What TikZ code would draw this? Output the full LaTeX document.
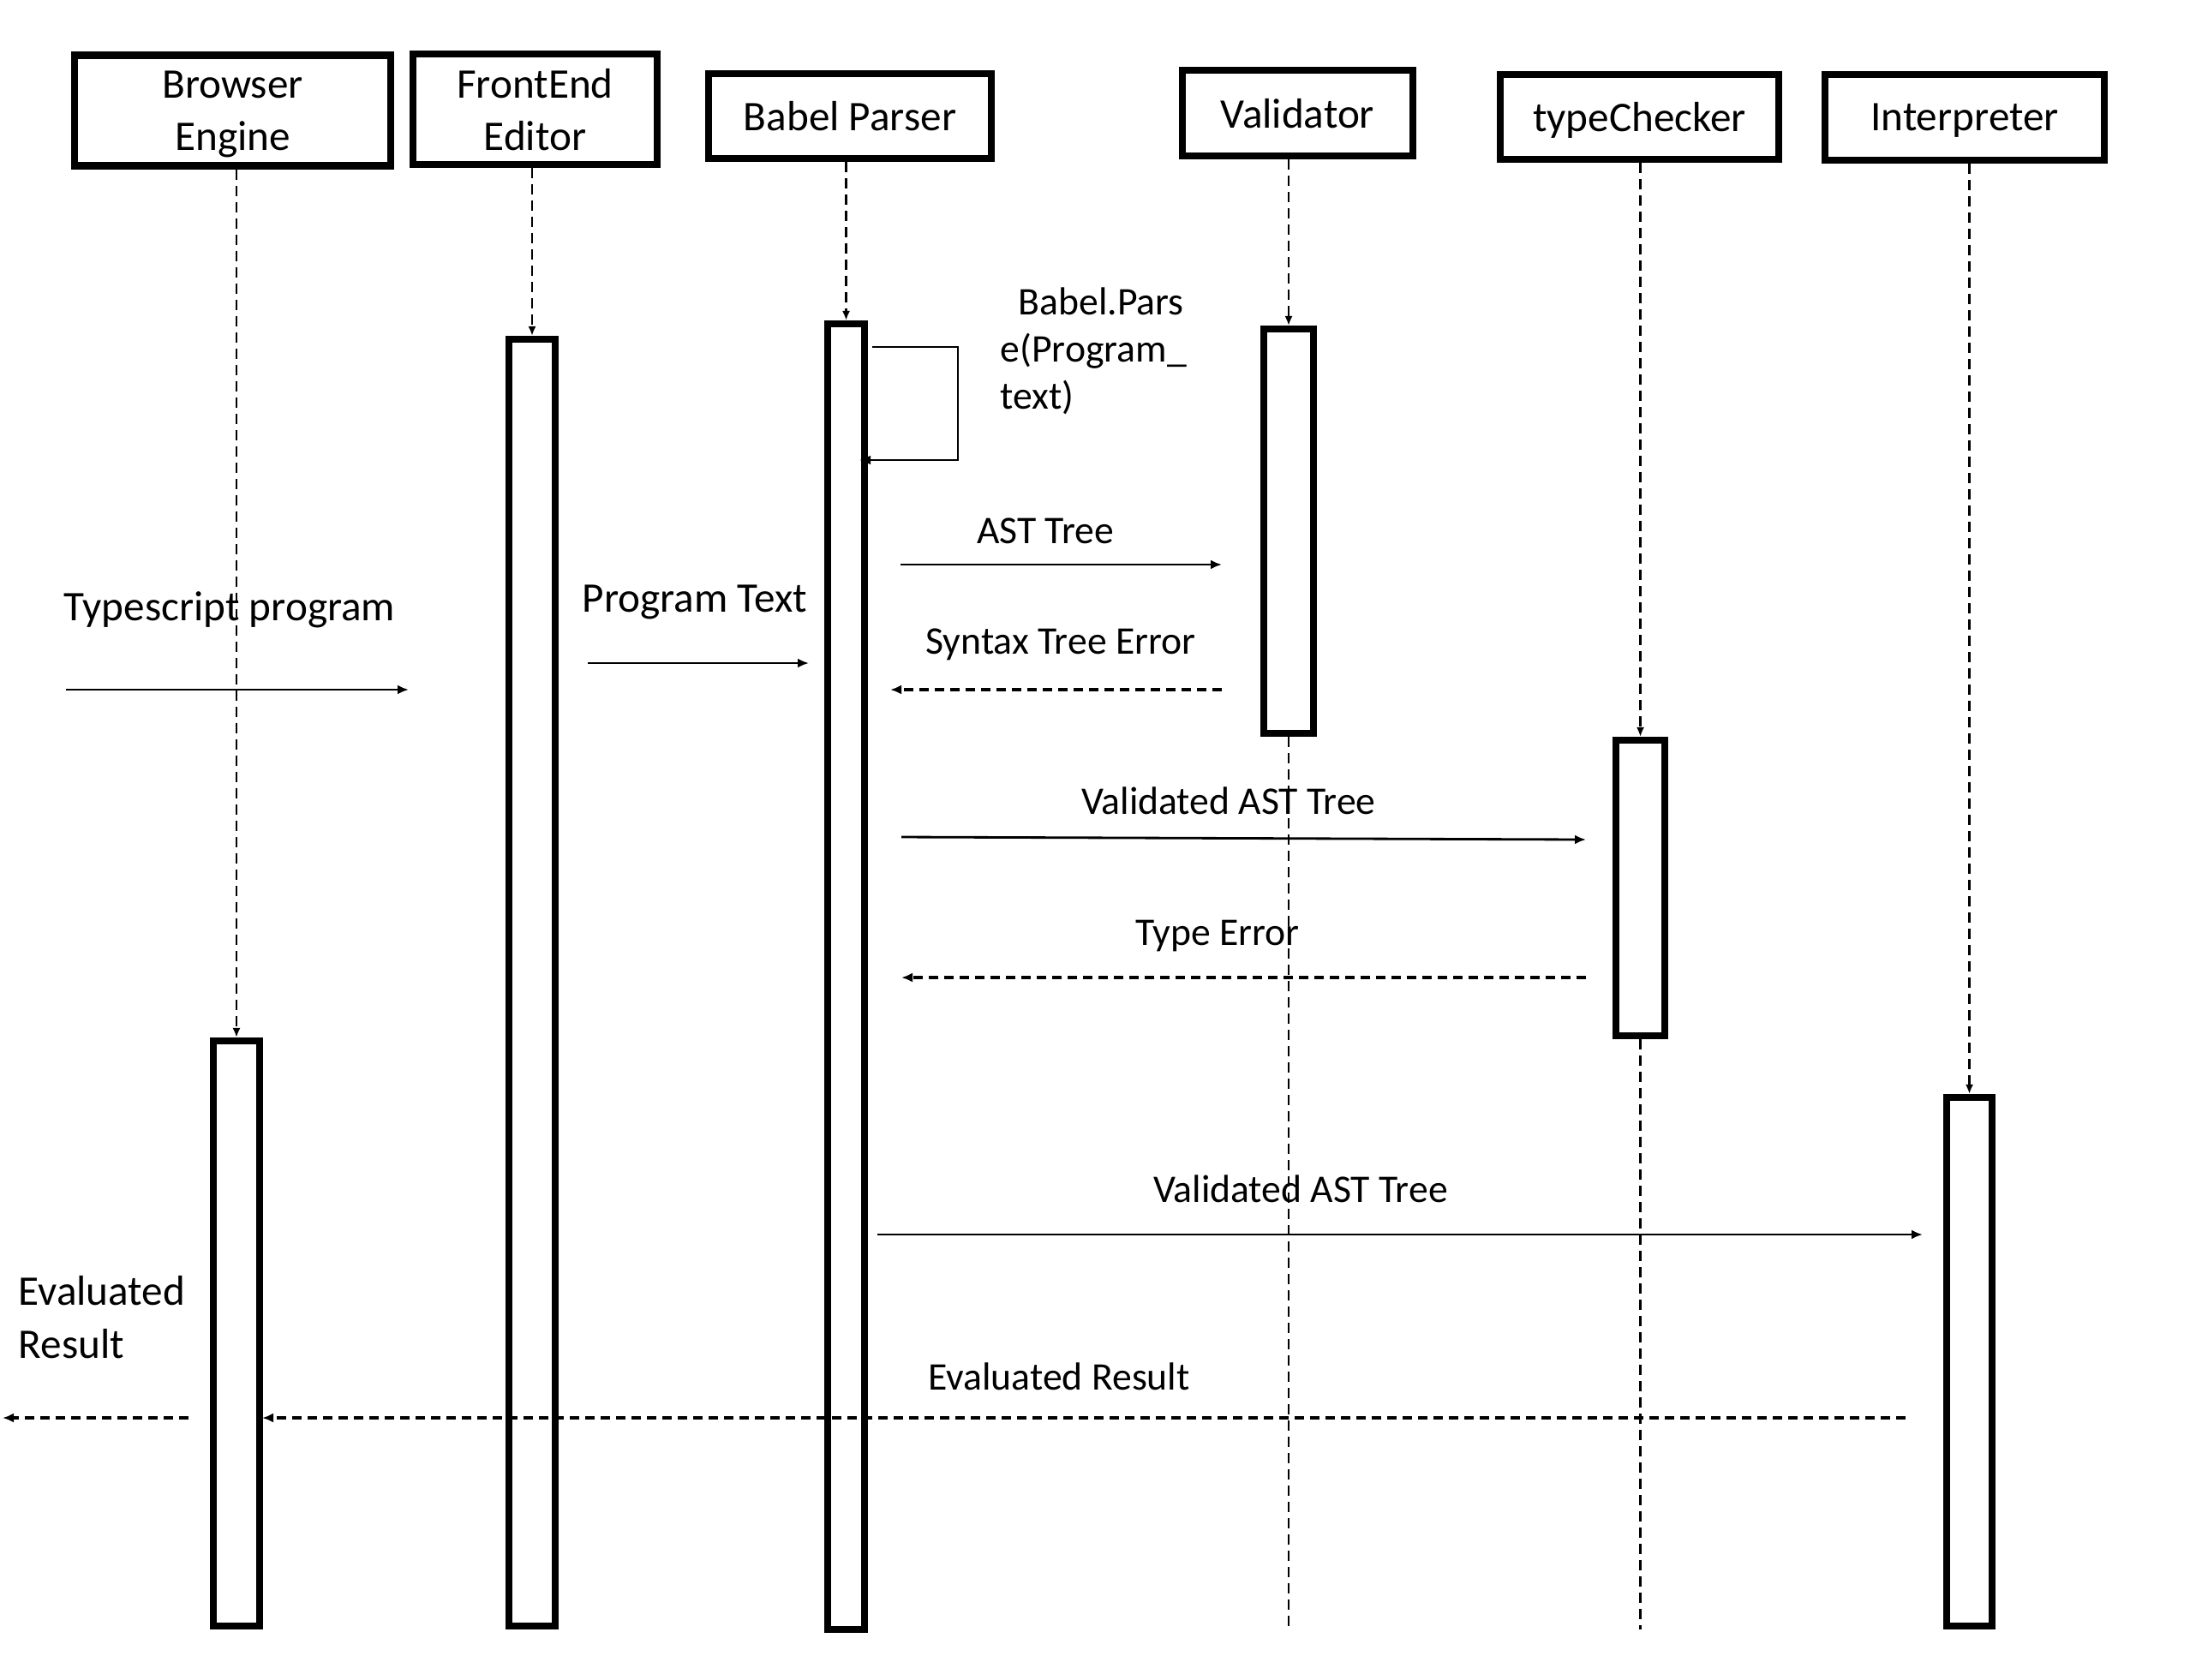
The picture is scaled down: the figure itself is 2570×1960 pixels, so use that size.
\documentclass[tikz,border=0pt]{standalone}
\usepackage{fontspec}
\setmainfont{Carlito}
\usetikzlibrary{positioning,arrows.meta}

\tikzset{
  head/.style={draw=black,line width=2.3pt,inner sep=0pt,align=center,text depth=0pt,
               font=\fontsize{14}{17.4}\selectfont},
  actbox/.style={draw=black,line width=2.3pt,fill=white,inner sep=0pt},
  lifeline/.style={draw=black,line width=0.8pt,dash pattern=on 1.2mm off 0.7mm},
  lifearrow/.style={lifeline,-{Latex[length=1.1mm,width=0.9mm]}},
  msg/.style={draw=black,line width=0.8pt,-{Latex[length=1.3mm,width=1.1mm]}},
  reply/.style={msg,line width=0.9pt,dash pattern=on 1.1mm off 0.7mm},
  lbl/.style={inner sep=0pt,anchor=base,font=\fontsize{13}{15.6}\selectfont},
  biglbl/.style={lbl,font=\fontsize{14}{17.4}\selectfont}
}

\begin{document}
\begin{tikzpicture}[x=0.1mm,y=-0.1mm]
  \useasboundingbox (0,0) rectangle (2570,1960);

  % headers
  \node[head,minimum width=36.9mm,minimum height=12.9mm] (beHead) at (271.5,129) {Browser\\Engine};
  \node[head,minimum width=28.5mm,minimum height=12.9mm] (feHead) at (624.5,127.5) {FrontEnd\\Editor};
  \node[head,minimum width=33mm,minimum height=9.9mm] (bpHead) at (992,135.5) {Babel Parser};
  \node[head,minimum width=26.9mm,minimum height=10mm] (vaHead) at (1514.5,132) {Validator};
  \node[head,minimum width=32.5mm,minimum height=9.9mm] (tcHead) at (1913.5,136.5) {typeChecker};
  \node[head,minimum width=32.6mm,minimum height=10mm] (inHead) at (2293,137) {Interpreter};

  % activation bars
  \node[actbox,minimum width=5.4mm,minimum height=68.3mm] (beAct) at (276,1556.5) {};
  \node[actbox,minimum width=5.4mm,minimum height=150.2mm] (feAct) at (621,1147) {};
  \node[actbox,minimum width=4.3mm,minimum height=152.4mm] (bpAct) at (987.5,1140) {};
  \node[actbox,minimum width=5.8mm,minimum height=47.2mm] (vaAct) at (1504,620) {};
  \node[actbox,minimum width=5.7mm,minimum height=34.5mm] (tcAct) at (1914.5,1036.5) {};
  \node[actbox,minimum width=5.3mm,minimum height=61.7mm] (inAct) at (2298.5,1589.5) {};

  % lifelines
  \path[lifearrow] (beAct.north |- beHead.south) -- (beAct.north);
  \path[lifearrow] (feAct.north |- feHead.south) -- (feAct.north);
  \path[lifearrow] (bpAct.north |- bpHead.south) -- (bpAct.north);
  \path[lifearrow] (vaAct.north |- vaHead.south) -- (vaAct.north);
  \path[lifearrow] (tcAct.north |- tcHead.south) -- (tcAct.north);
  \path[lifearrow] (inAct.north |- inHead.south) -- (inAct.north);
  \coordinate (vaEnd) at (1504,1902);
  \coordinate (tcEnd) at (1914.5,1902);
  \path[lifeline] (vaAct.south) -- (vaEnd);
  \path[lifeline] (tcAct.south) -- (tcEnd);

  % message ends
  \coordinate (tsA) at (77,805);    \coordinate (tsB) at (477,805);
  \coordinate (ptA) at (686,774);   \coordinate (ptB) at (944,774);
  \coordinate (astA) at (1051,659); \coordinate (astB) at (1426,659);
  \coordinate (steA) at (1426,805); \coordinate (steB) at (1039,805);
  \coordinate (vtA) at (1052,977);  \coordinate (vtB) at (1851,980);
  \coordinate (teA) at (1851,1141); \coordinate (teB) at (1052,1141);
  \coordinate (viA) at (1024,1441); \coordinate (viB) at (2244,1441);
  \coordinate (erA) at (2224,1655); \coordinate (erB) at (306,1655);
  \coordinate (ooA) at (220,1655);  \coordinate (ooB) at (3,1655);
  \coordinate (selfA) at (1018,405); \coordinate (selfB) at (1003,537);

  % messages
  \path[msg] (tsA) -- (tsB);
  \path[msg] (ptA) -- (ptB);
  \path[msg] (selfA) -- ++(100,0) |- (selfB);
  \path[msg] (astA) -- (astB);
  \path[reply] (steA) -- (steB);
  \path[msg] (vtA) -- (vtB);
  \path[reply] (teA) -- (teB);
  \path[msg] (viA) -- (viB);
  \path[reply] (erA) -- (erB);
  \path[reply] (ooA) -- (ooB);

  % labels
  \node[biglbl] (tsLbl) at (268,724) {Typescript program};
  \node[biglbl] (ptLbl) at (811,714) {Program Text};
  \node[lbl,anchor=north west,align=left] (selfLbl) at (1167,335) {\hspace{6pt}Babel.Pars\\e(Program\_\\text)};
  \node[lbl] (astLbl) at (1220,634) {AST Tree};
  \node[lbl] (steLbl) at (1238,763) {Syntax Tree Error};
  \node[lbl] (vtLbl) at (1434,950) {Validated AST Tree};
  \node[lbl] (teLbl) at (1421,1103) {Type Error};
  \node[lbl] (viLbl) at (1518,1403) {Validated AST Tree};
  \node[lbl] (erLbl) at (1236,1622) {Evaluated Result};
  \node[biglbl,anchor=north west,align=left] (ooLbl) at (21,1489) {Evaluated\\Result};
\end{tikzpicture}
\end{document}
